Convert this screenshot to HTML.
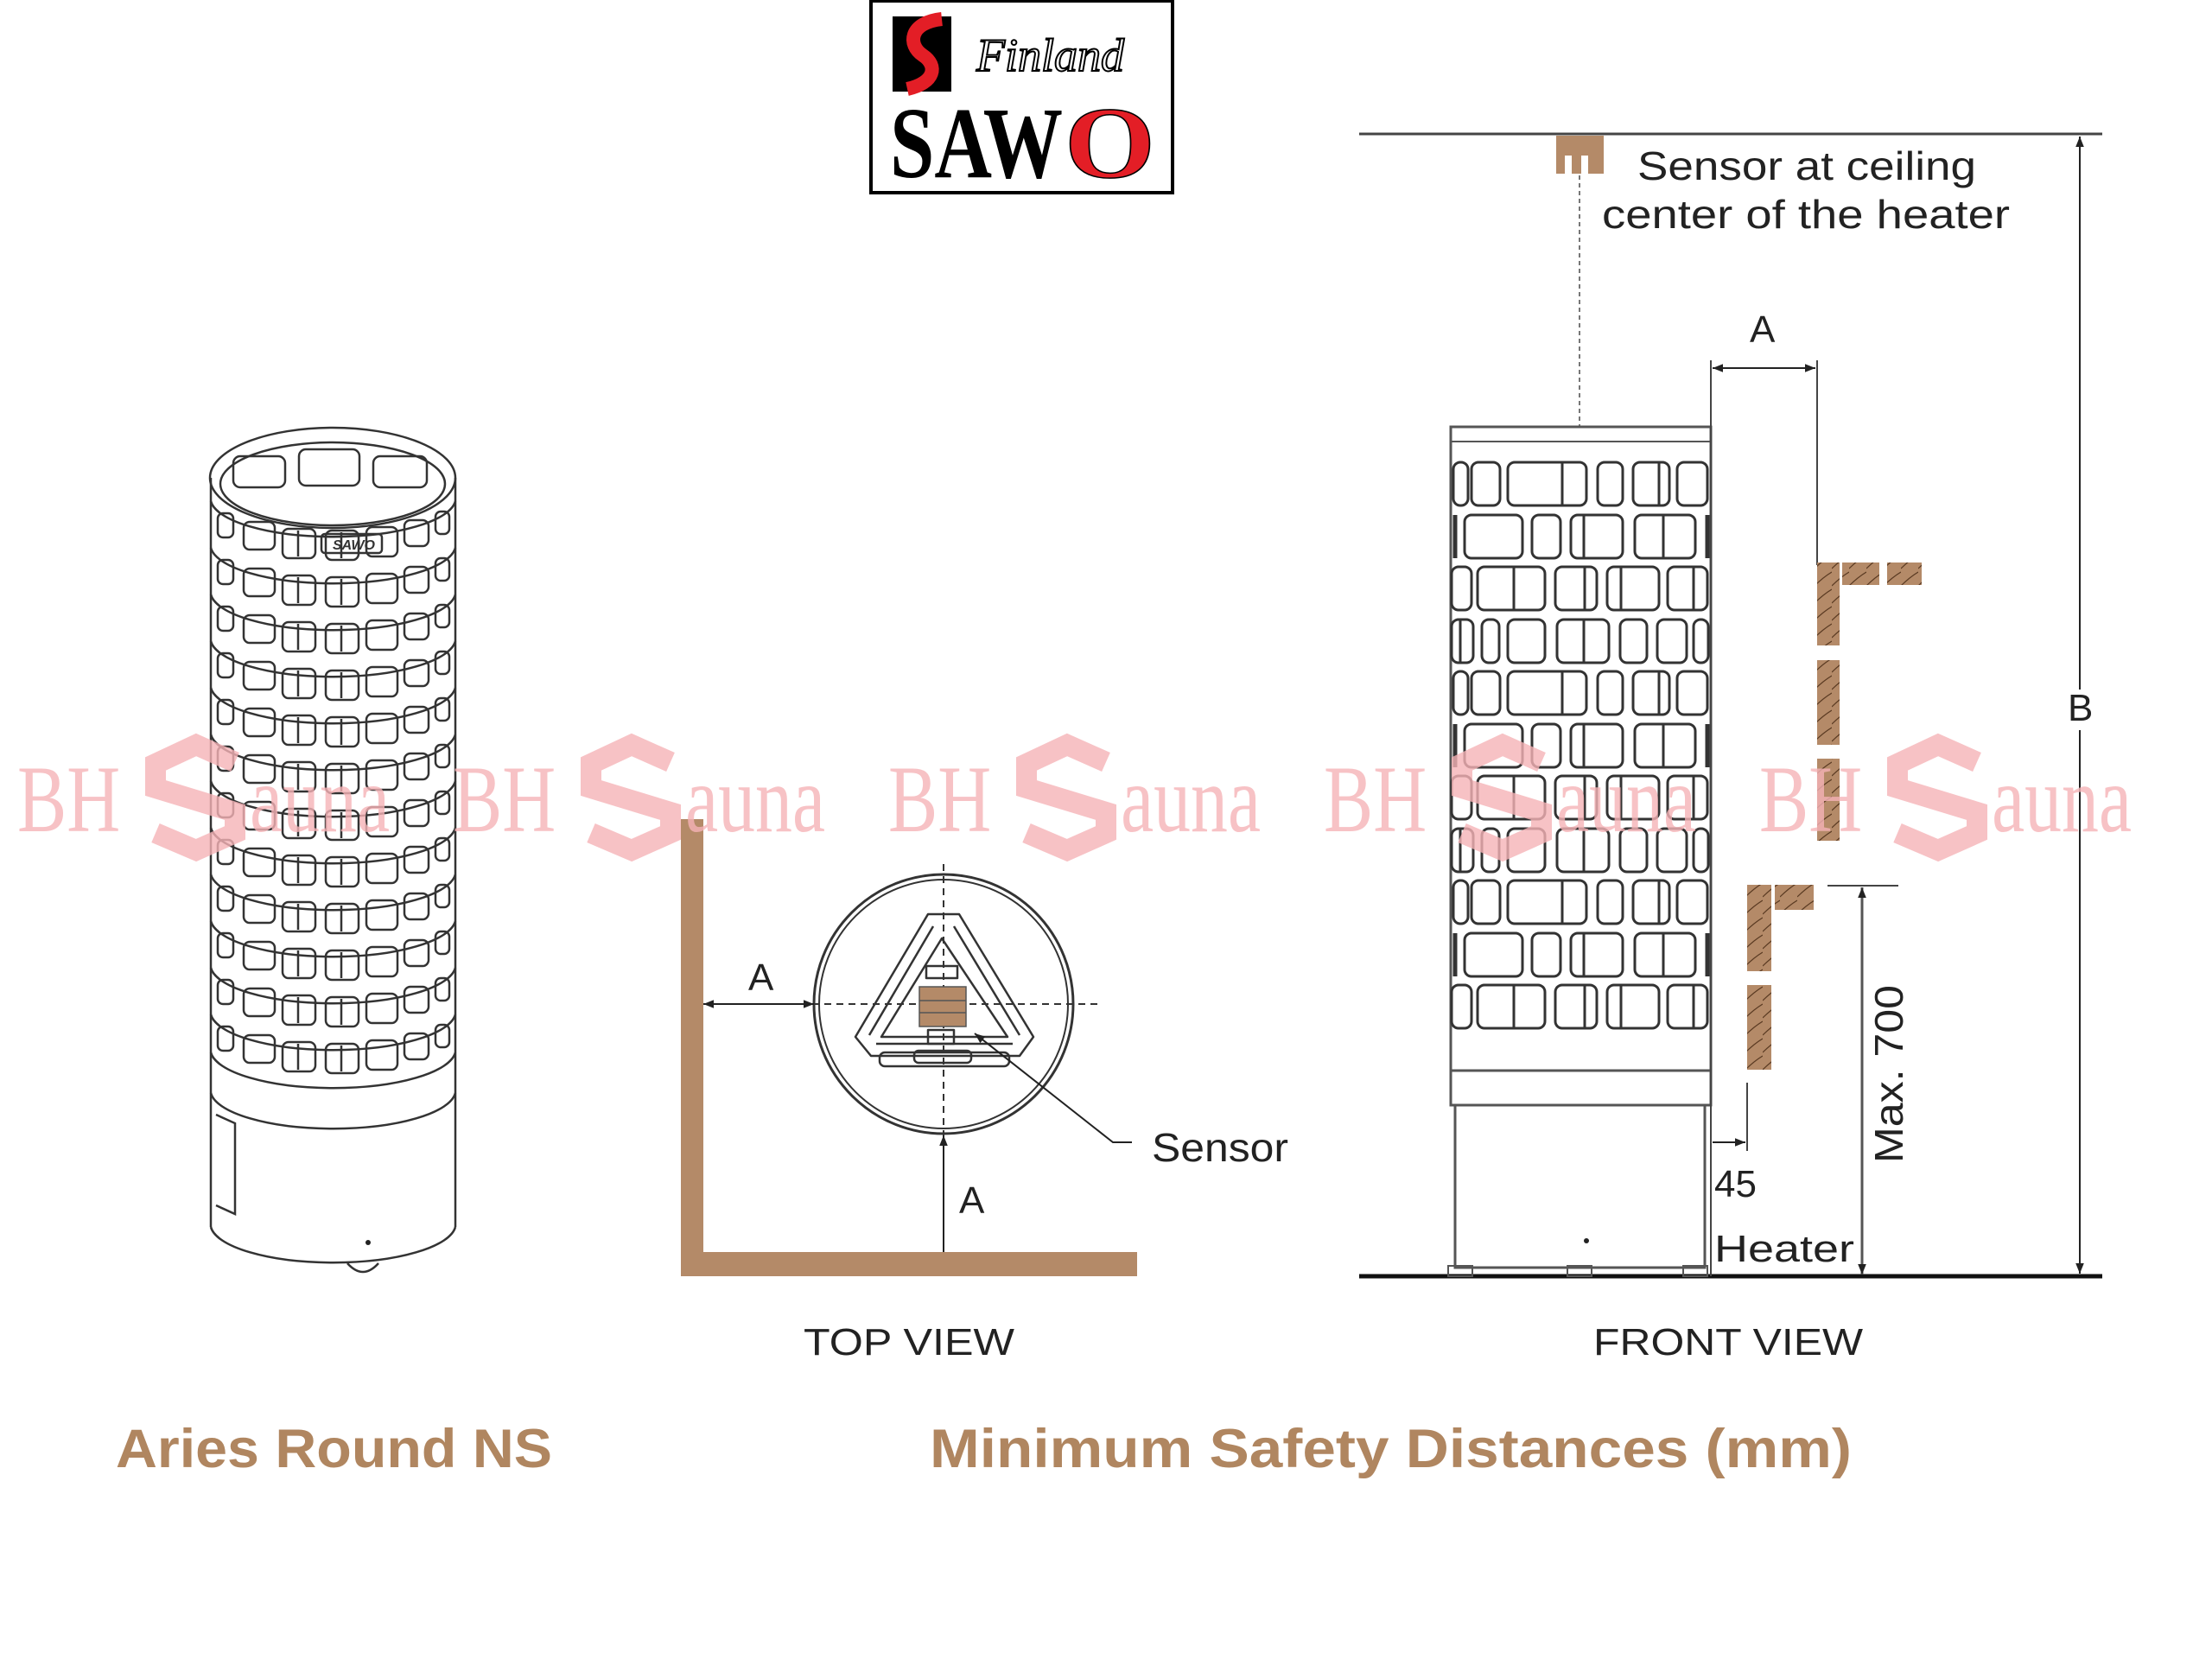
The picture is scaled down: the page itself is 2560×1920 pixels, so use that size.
<!DOCTYPE html>
<html><head><meta charset="utf-8"><style>
html,body{margin:0;padding:0;background:#fff;}
svg{display:block;}
.s{font-family:"Liberation Sans",sans-serif;}
.r{font-family:"Liberation Serif",serif;}
</style></head><body>
<svg width="2560" height="1920" viewBox="0 0 2560 1920" xmlns="http://www.w3.org/2000/svg">
<defs>
<marker id="ar" viewBox="0 0 10 10" refX="10" refY="5" markerWidth="12" markerHeight="12" markerUnits="userSpaceOnUse" orient="auto-start-reverse"><path d="M0,1 L10,5 L0,9 z" fill="#222"/></marker>
<g id="rowA" fill="none" stroke="#333" stroke-width="3">
<rect x="1682" y="0" width="17" height="50" rx="8"/><rect x="1703" y="0" width="33" height="50" rx="8"/>
<rect x="1745" y="0" width="91" height="50" rx="8"/><line x1="1808" y1="0" x2="1808" y2="50"/>
<rect x="1849" y="0" width="29" height="50" rx="8"/><rect x="1890" y="0" width="42" height="50" rx="8"/><line x1="1920" y1="0" x2="1920" y2="50"/>
<rect x="1941" y="0" width="35" height="50" rx="8"/></g>
<g id="rowB" fill="none" stroke="#333" stroke-width="3">
<rect x="1695" y="0" width="67" height="50" rx="8"/><rect x="1773" y="0" width="33" height="50" rx="8"/>
<rect x="1818" y="0" width="60" height="50" rx="8"/><line x1="1833" y1="0" x2="1833" y2="50"/>
<rect x="1892" y="0" width="70" height="50" rx="8"/><line x1="1925" y1="0" x2="1925" y2="50"/>
<line x1="1684" y1="0" x2="1684" y2="50" stroke-width="5"/><line x1="1976" y1="0" x2="1976" y2="50" stroke-width="5"/></g>
<g id="rowC" fill="none" stroke="#333" stroke-width="3">
<rect x="1680" y="0" width="23" height="50" rx="8"/><rect x="1710" y="0" width="78" height="50" rx="8"/><line x1="1752" y1="0" x2="1752" y2="50"/>
<rect x="1800" y="0" width="48" height="50" rx="8"/><line x1="1834" y1="0" x2="1834" y2="50"/>
<rect x="1860" y="0" width="60" height="50" rx="8"/><line x1="1876" y1="0" x2="1876" y2="50"/>
<rect x="1930" y="0" width="46" height="50" rx="8"/><line x1="1960" y1="0" x2="1960" y2="50"/></g>
<g id="rowD" fill="none" stroke="#333" stroke-width="3">
<rect x="1680" y="0" width="25" height="50" rx="8"/><line x1="1690" y1="0" x2="1690" y2="50"/>
<rect x="1715" y="0" width="20" height="50" rx="8"/><rect x="1745" y="0" width="43" height="50" rx="8"/>
<rect x="1802" y="0" width="60" height="50" rx="8"/><line x1="1833" y1="0" x2="1833" y2="50"/>
<rect x="1875" y="0" width="31" height="50" rx="8"/><rect x="1918" y="0" width="34" height="50" rx="8"/><rect x="1960" y="0" width="17" height="50" rx="8"/></g>
<g id="lrow" fill="none" stroke="#333" stroke-width="2.5">
<path d="M244 0 A142 45 0 0 0 527 0"/>
<rect x="252" y="14" width="18" height="28" rx="6"/>
<rect x="282" y="24" width="36" height="32" rx="7"/>
<rect x="327" y="32" width="38" height="34" rx="7"/><line x1="345" y1="34" x2="345" y2="64"/>
<rect x="377" y="34" width="38" height="34" rx="7"/><line x1="395" y1="36" x2="395" y2="66"/>
<rect x="424" y="30" width="36" height="34" rx="7"/>
<rect x="468" y="22" width="28" height="30" rx="7"/>
<rect x="504" y="12" width="16" height="26" rx="6"/>
</g>
<g id="wm">
<text x="0" y="0" class="r" font-size="110" fill="#f6b3b7" transform="scale(0.78,1)">BH</text>
<path d="M252,-80 L207,-100 L160,-78 L160,-50 L252,-22 L252,2 L207,22 L160,2" fill="none" stroke="#f6b3b7" stroke-width="24" stroke-linejoin="miter"/>
<text x="345" y="0" class="r" font-size="110" fill="#f6b3b7" transform="scale(0.78,1)">auna</text>
</g>
<pattern id="grain" width="20" height="20" patternUnits="userSpaceOnUse"><rect width="20" height="20" fill="#b48a68"/><path d="M0,18 Q10,8 20,2" stroke="#5a3a22" stroke-width="1.2" fill="none"/></pattern>
</defs>

<!-- Logo -->
<rect x="1008" y="1" width="349" height="222" fill="#fff" stroke="#000" stroke-width="4"/>
<rect x="1033" y="19" width="68" height="87" fill="#000"/>
<path d="M1090,22 C1052,26 1050,52 1068,64 C1086,76 1082,96 1050,103" fill="none" stroke="#e31e26" stroke-width="16"/>
<text x="1130" y="82" class="r" font-style="italic" font-size="54" fill="#fff" stroke="#000" stroke-width="2">Finland</text>
<text x="1030" y="205" class="r" font-weight="bold" font-size="118" fill="#000" textLength="200" lengthAdjust="spacingAndGlyphs">SAW</text>
<text x="1232" y="205" class="r" font-weight="bold" font-size="118" fill="#e31e26" stroke="#000" stroke-width="1.5" textLength="105" lengthAdjust="spacingAndGlyphs">O</text>

<!-- Left heater -->
<g fill="none" stroke="#333" stroke-width="2.5">
<ellipse cx="385" cy="553" rx="142" ry="58"/>
<ellipse cx="385" cy="560" rx="130" ry="48"/>
<rect x="346" y="520" width="70" height="42" rx="8"/><rect x="270" y="528" width="60" height="36" rx="8"/><rect x="432" y="528" width="62" height="36" rx="8"/>
<line x1="244" y1="553" x2="244" y2="1420"/><line x1="527" y1="553" x2="527" y2="1420"/>
<rect x="372" y="618" width="70" height="22" rx="4"/>
<text x="385" y="636" class="s" font-size="16" font-style="italic" font-weight="bold" fill="#333" stroke="none">SAWO</text>
</g>
<use href="#lrow" y="580"/><use href="#lrow" y="634"/><use href="#lrow" y="688"/><use href="#lrow" y="742"/>
<use href="#lrow" y="796"/><use href="#lrow" y="850"/><use href="#lrow" y="904"/><use href="#lrow" y="958"/>
<use href="#lrow" y="1012"/><use href="#lrow" y="1066"/><use href="#lrow" y="1120"/><use href="#lrow" y="1174"/>
<g fill="none" stroke="#333" stroke-width="2.5">
<path d="M244 1218 A142 45 0 0 0 527 1218"/>
<path d="M244 1265 A142 45 0 0 0 527 1265"/>
<path d="M244 1420 A142 45 0 0 0 527 1420"/>
<path d="M250 1290 L272 1300 L272 1405 L250 1395"/>
<path d="M402 1462 Q420 1482 438 1462"/>
</g>
<circle cx="426" cy="1438" r="3" fill="#222"/>

<!-- Top view -->
<rect x="788" y="948" width="26" height="529" fill="#b48a68"/>
<rect x="788" y="1449" width="528" height="28" fill="#b48a68"/>
<circle cx="1092" cy="1162" r="150" fill="none" stroke="#333" stroke-width="3"/>
<circle cx="1092" cy="1162" r="144" fill="none" stroke="#333" stroke-width="2"/>
<g stroke="#333" stroke-width="2" stroke-dasharray="8,6">
<line x1="1092" y1="1000" x2="1092" y2="1330"/><line x1="940" y1="1162" x2="1270" y2="1162"/>
</g>
<g fill="none" stroke="#333" stroke-width="2.5" stroke-linejoin="round">
<path d="M1074,1058 L990,1200 L1008,1222 L1180,1222 L1196,1200 L1110,1058 Z"/>
<path d="M1080,1072 L1006,1198 M1104,1072 L1180,1198 M1014,1208 L1172,1208"/>
<path d="M1090,1086 L1020,1200 L1166,1200 Z"/>
<rect x="1018" y="1218" width="150" height="16" rx="6"/>
<rect x="1058" y="1216" width="66" height="14" rx="5"/>
<rect x="1072" y="1118" width="36" height="14"/>
<rect x="1074" y="1192" width="30" height="16"/>
</g>
<rect x="1064" y="1142" width="54" height="46" fill="#b48a68" stroke="#555" stroke-width="1.5"/>
<line x1="1064" y1="1158" x2="1118" y2="1158" stroke="#555" stroke-width="1.5"/><line x1="1064" y1="1172" x2="1118" y2="1172" stroke="#555" stroke-width="1.5"/>
<line x1="814" y1="1162" x2="942" y2="1162" stroke="#222" stroke-width="2" marker-start="url(#ar)" marker-end="url(#ar)"/>
<line x1="1092" y1="1449" x2="1092" y2="1314" stroke="#222" stroke-width="2" marker-end="url(#ar)"/>
<polyline points="1310,1322 1288,1322 1128,1196" fill="none" stroke="#222" stroke-width="2" marker-end="url(#ar)"/>
<text x="866" y="1146" class="s" font-size="44" fill="#222">A</text>
<text x="1110" y="1404" class="s" font-size="44" fill="#222">A</text>
<text x="1333" y="1344" class="s" font-size="46" fill="#222" textLength="158" lengthAdjust="spacingAndGlyphs">Sensor</text>
<text x="930" y="1568" class="s" font-size="44" fill="#222" textLength="244" lengthAdjust="spacingAndGlyphs">TOP VIEW</text>

<!-- Front view -->
<line x1="1573" y1="155" x2="2433" y2="155" stroke="#444" stroke-width="3"/>
<line x1="1573" y1="1477" x2="2433" y2="1477" stroke="#111" stroke-width="5"/>
<rect x="1801" y="157" width="55" height="44" fill="#b48a68"/>
<rect x="1811" y="180" width="8" height="21" fill="#fff"/><rect x="1830" y="180" width="8" height="21" fill="#fff"/>
<text x="1895" y="208" class="s" font-size="46" fill="#222" textLength="392" lengthAdjust="spacingAndGlyphs">Sensor at ceiling</text>
<text x="1854" y="264" class="s" font-size="46" fill="#222" textLength="472" lengthAdjust="spacingAndGlyphs">center of the heater</text>
<line x1="1828" y1="203" x2="1828" y2="494" stroke="#777" stroke-width="2" stroke-dasharray="5,4"/>
<line x1="2407" y1="158" x2="2407" y2="798" stroke="#222" stroke-width="2" marker-start="url(#ar)"/>
<line x1="2407" y1="845" x2="2407" y2="1474" stroke="#222" stroke-width="2" marker-end="url(#ar)"/>
<text x="2393" y="834" class="s" font-size="44" fill="#222">B</text>
<rect x="1679" y="494" width="301" height="745" fill="#fff" stroke="#555" stroke-width="3"/>
<line x1="1679" y1="511" x2="1980" y2="511" stroke="#555" stroke-width="2"/>
<use href="#rowA" y="535"/><use href="#rowB" y="596"/><use href="#rowC" y="656"/><use href="#rowD" y="717"/>
<use href="#rowA" y="777"/><use href="#rowB" y="838"/><use href="#rowC" y="898"/><use href="#rowD" y="959"/>
<use href="#rowA" y="1019"/><use href="#rowB" y="1080"/><use href="#rowC" y="1140"/>
<rect x="1679" y="1239" width="301" height="40" fill="#fff" stroke="#555" stroke-width="3"/>
<rect x="1684" y="1279" width="289" height="188" fill="#fff" stroke="#555" stroke-width="3"/>
<rect x="1676" y="1465" width="28" height="12" fill="none" stroke="#555" stroke-width="2"/>
<rect x="1814" y="1465" width="28" height="12" fill="none" stroke="#555" stroke-width="2"/>
<rect x="1948" y="1465" width="28" height="12" fill="none" stroke="#555" stroke-width="2"/>
<circle cx="1836" cy="1436" r="3" fill="#222"/>
<line x1="1980" y1="417" x2="1980" y2="1477" stroke="#444" stroke-width="2"/>
<line x1="2103" y1="417" x2="2103" y2="654" stroke="#444" stroke-width="2"/>
<line x1="1982" y1="426" x2="2101" y2="426" stroke="#222" stroke-width="2" marker-start="url(#ar)" marker-end="url(#ar)"/>
<text x="2025" y="396" class="s" font-size="44" fill="#222">A</text>
<rect x="2103" y="651" width="26" height="96" fill="url(#grain)"/>
<rect x="2132" y="651" width="43" height="26" fill="url(#grain)"/>
<rect x="2184" y="651" width="40" height="26" fill="url(#grain)"/>
<rect x="2103" y="764" width="26" height="98" fill="url(#grain)"/>
<rect x="2103" y="878" width="26" height="95" fill="url(#grain)"/>
<rect x="2022" y="1024" width="28" height="100" fill="url(#grain)"/>
<rect x="2054" y="1024" width="45" height="29" fill="url(#grain)"/>
<rect x="2022" y="1140" width="28" height="98" fill="url(#grain)"/>
<line x1="2115" y1="1025" x2="2197" y2="1025" stroke="#444" stroke-width="2"/>
<line x1="2155" y1="1027" x2="2155" y2="1475" stroke="#555" stroke-width="3" marker-start="url(#ar)" marker-end="url(#ar)"/>
<text transform="translate(2202,1346) rotate(-90)" class="s" font-size="46" fill="#222" textLength="206" lengthAdjust="spacingAndGlyphs">Max. 700</text>
<line x1="2022" y1="1253" x2="2022" y2="1332" stroke="#444" stroke-width="2"/>
<line x1="1982" y1="1322" x2="2020" y2="1322" stroke="#222" stroke-width="2" marker-end="url(#ar)"/>
<text x="1984" y="1385" class="s" font-size="44" fill="#222">45</text>
<text x="1984" y="1460" class="s" font-size="44" fill="#222" textLength="162" lengthAdjust="spacingAndGlyphs">Heater</text>
<text x="1844" y="1568" class="s" font-size="44" fill="#222" textLength="312" lengthAdjust="spacingAndGlyphs">FRONT VIEW</text>

<text x="134" y="1698" class="s" font-size="63" font-weight="bold" fill="#b08660" textLength="505" lengthAdjust="spacingAndGlyphs">Aries Round NS</text>
<text x="1076" y="1698" class="s" font-size="63" font-weight="bold" fill="#b08660" textLength="1067" lengthAdjust="spacingAndGlyphs">Minimum Safety Distances (mm)</text>

<g opacity="0.8">
<use href="#wm" x="20" y="962"/><use href="#wm" x="524" y="962"/><use href="#wm" x="1028" y="962"/><use href="#wm" x="1532" y="962"/><use href="#wm" x="2036" y="962"/>
</g>
</svg>
</body></html>
